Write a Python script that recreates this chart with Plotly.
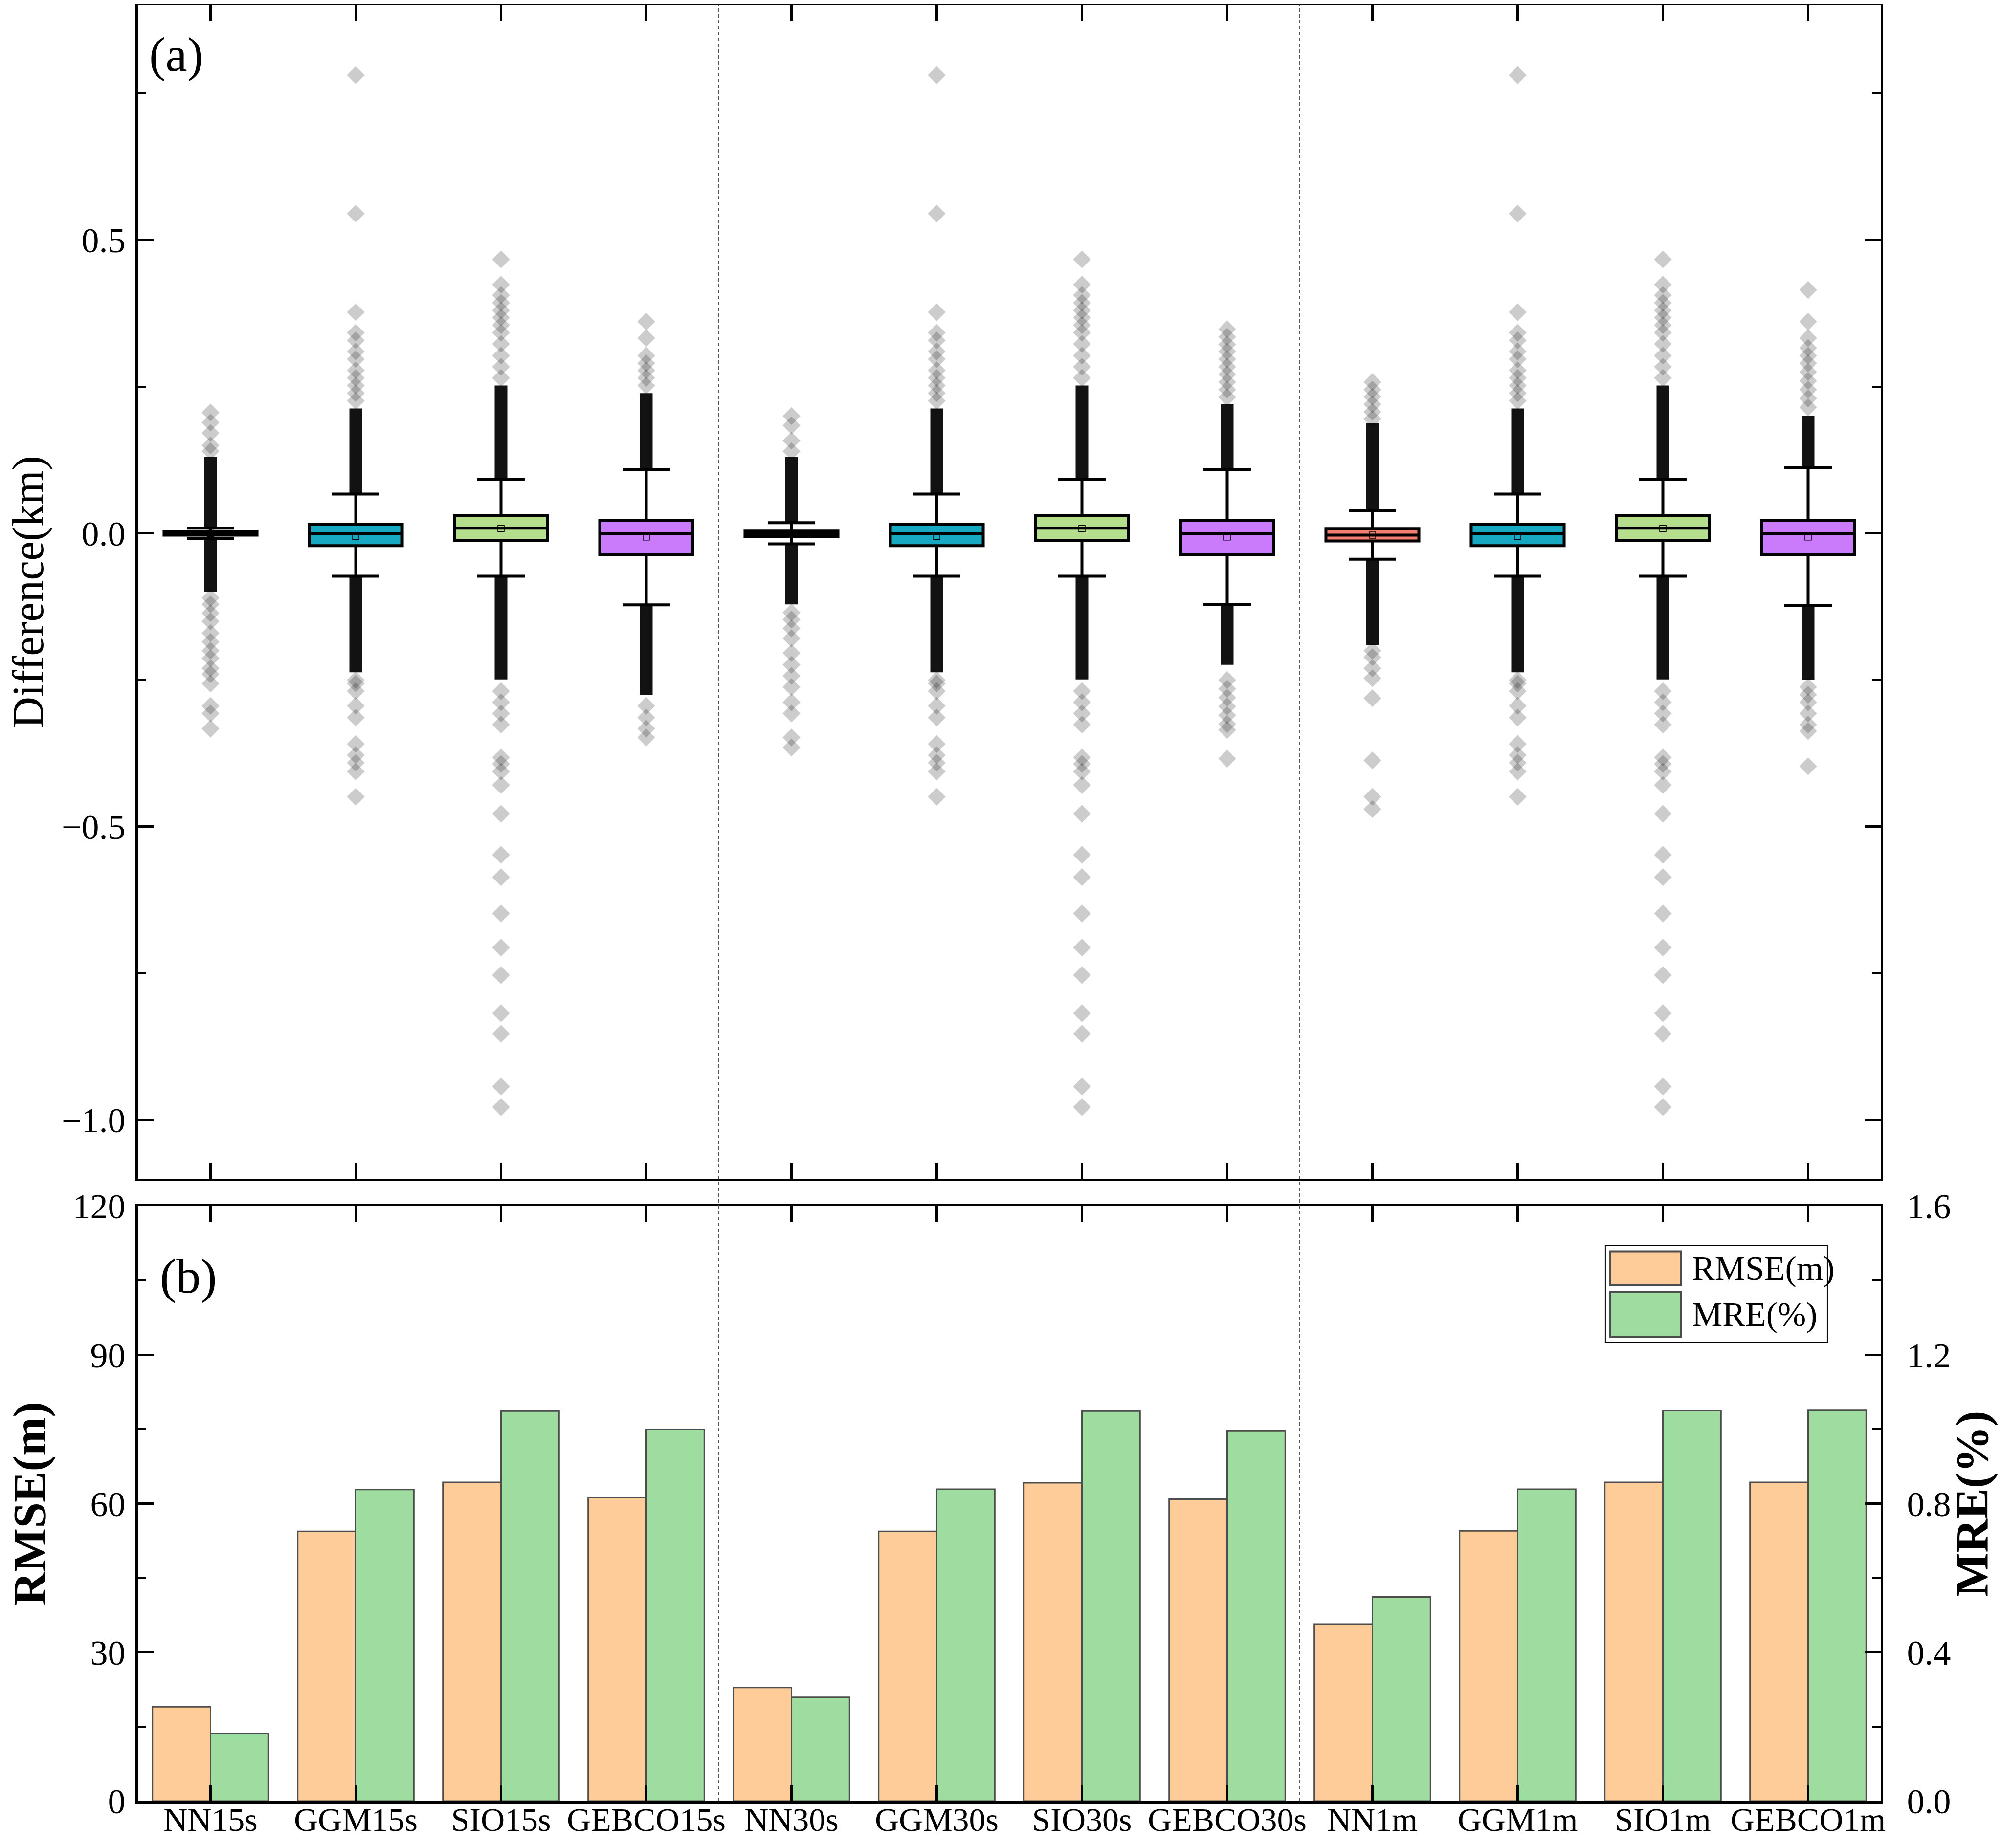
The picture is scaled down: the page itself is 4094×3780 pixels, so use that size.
"""Box plot of depth differences (a) and RMSE / MRE bars (b) for the twelve models."""

import plotly.graph_objects as go

categories = ["NN15s", "GGM15s", "SIO15s", "GEBCO15s",
              "NN30s", "GGM30s", "SIO30s", "GEBCO30s",
              "NN1m", "GGM1m", "SIO1m", "GEBCO1m"]
pos = list(range(len(categories)))

# box statistics, km
q1 = [-0.003, -0.021, -0.012, -0.036, -0.005, -0.021, -0.012, -0.036, -0.013, -0.021, -0.012, -0.036]
median = [0.0, 0.0, 0.009, 0.0, 0.0, 0.0, 0.009, 0.0, -0.003, 0.0, 0.009, 0.0]
q3 = [0.003, 0.015, 0.030, 0.022, 0.004, 0.015, 0.030, 0.022, 0.008, 0.015, 0.030, 0.022]
lower_fence = [-0.009, -0.073, -0.073, -0.122, -0.018, -0.073, -0.073, -0.121, -0.044, -0.073, -0.073, -0.123]
upper_fence = [0.009, 0.067, 0.092, 0.109, 0.018, 0.067, 0.092, 0.109, 0.039, 0.067, 0.092, 0.112]
mean = [0.0, -0.005, 0.008, -0.006, 0.0, -0.005, 0.008, -0.006, -0.003, -0.005, 0.008, -0.006]

# extent of the solid runs of outliers next to the whiskers, km
band_hi = [0.130, 0.213, 0.252, 0.239, 0.130, 0.213, 0.252, 0.220, 0.188, 0.213, 0.252, 0.200]
band_lo = [-0.100, -0.237, -0.249, -0.275, -0.121, -0.237, -0.249, -0.224, -0.190, -0.237, -0.249, -0.250]

# separate outliers, km
nn15_out = [0.206, 0.189, 0.171, 0.150, 0.140, -0.110, -0.121, -0.136, -0.150, -0.170, -0.185,
            -0.200, -0.213, -0.230, -0.240, -0.256, -0.294, -0.307, -0.333]
ggm_out = [0.781, 0.545, 0.377, 0.342, 0.329, 0.310, 0.297, 0.278, 0.265, 0.252, 0.239, 0.226,
           -0.250, -0.256, -0.269, -0.294, -0.314, -0.359, -0.378, -0.391, -0.406, -0.449]
sio_out = [0.467, 0.424, 0.406, 0.393, 0.380, 0.368, 0.355, 0.342, 0.323, 0.303, 0.284, 0.265,
           -0.269, -0.288, -0.307, -0.326, -0.382, -0.393, -0.406, -0.429, -0.478, -0.548, -0.586,
           -0.648, -0.706, -0.753, -0.818, -0.853, -0.943, -0.978]
gebco15_out = [0.361, 0.333, 0.303, 0.290, 0.278, 0.265, 0.252, -0.294, -0.314, -0.333, -0.348]
nn30_out = [0.200, 0.184, 0.158, 0.140, -0.135, -0.147, -0.162, -0.179, -0.204, -0.224, -0.243,
            -0.262, -0.288, -0.307, -0.348, -0.365]
gebco30_out = [0.348, 0.335, 0.322, 0.310, 0.297, 0.284, 0.271, 0.258, 0.245, 0.232,
               -0.250, -0.265, -0.280, -0.295, -0.310, -0.325, -0.335, -0.384]
nn1m_out = [0.258, 0.245, 0.233, 0.220, 0.207, 0.195, -0.200, -0.211, -0.230, -0.247, -0.281,
            -0.387, -0.449, -0.470]
gebco1m_out = [0.415, 0.361, 0.333, 0.316, 0.303, 0.290, 0.275, 0.260, 0.245, 0.230, 0.215,
               -0.262, -0.275, -0.288, -0.307, -0.326, -0.337, -0.397]
outliers = [nn15_out, ggm_out, sio_out, gebco15_out,
            nn30_out, ggm_out, sio_out, gebco30_out,
            nn1m_out, ggm_out, sio_out, gebco1m_out]

box_colors = ["#000000", "#17A9C1", "#B5DF8C", "#C97BFC",
              "#000000", "#17A9C1", "#B5DF8C", "#C97BFC",
              "#F47F72", "#17A9C1", "#B5DF8C", "#C97BFC"]

# panel (b)
rmse = [19.0, 54.4, 64.3, 61.2, 22.9, 54.4, 64.2, 60.9, 35.7, 54.5, 64.3, 64.3]
mre = [0.182, 0.838, 1.049, 1.000, 0.279, 0.839, 1.049, 0.995, 0.549, 0.839, 1.050, 1.051]

FONT = "Liberation Serif"
RMSE_COLOR = "#FECC99"
MRE_COLOR = "#9FDC9F"
BAR_EDGE = "#4D4D4D"

fig = go.Figure()

# solid outlier runs and single outliers
for i in pos:
    for seg in ([lower_fence[i], band_lo[i]], [upper_fence[i], band_hi[i]]):
        fig.add_trace(go.Scatter(x=[i, i], y=seg, mode="lines", showlegend=False,
                                 line=dict(color="rgba(0,0,0,0.93)", width=26),
                                 xaxis="x", yaxis="y", hoverinfo="skip"))
    fig.add_trace(go.Scatter(x=[i] * len(outliers[i]), y=outliers[i], mode="markers",
                             showlegend=False, xaxis="x", yaxis="y",
                             marker=dict(symbol="diamond", size=28, color="rgba(0,0,0,0.2)",
                                         line=dict(width=0))))

# boxes
for i in pos:
    fig.add_trace(go.Box(x=[i], q1=[q1[i]], median=[median[i]], q3=[q3[i]],
                         lowerfence=[lower_fence[i]], upperfence=[upper_fence[i]],
                         boxpoints=False, width=0.64, whiskerwidth=0.51,
                         fillcolor=box_colors[i], line=dict(color="black", width=6),
                         name=categories[i], showlegend=False, xaxis="x", yaxis="y"))

# means
fig.add_trace(go.Scatter(x=pos, y=mean, mode="markers", showlegend=False, xaxis="x", yaxis="y",
                         marker=dict(symbol="square-open", size=13, color="black",
                                     line=dict(width=1.5, color="black"))))

# bars
fig.add_trace(go.Bar(x=pos, y=rmse, width=0.4, offset=-0.4, name="RMSE(m)", showlegend=False,
                     marker=dict(color=RMSE_COLOR, line=dict(color=BAR_EDGE, width=3)),
                     xaxis="x2", yaxis="y2"))
fig.add_trace(go.Bar(x=pos, y=mre, width=0.4, offset=0.0, name="MRE(%)", showlegend=False,
                     marker=dict(color=MRE_COLOR, line=dict(color=BAR_EDGE, width=3)),
                     xaxis="x2", yaxis="y3"))

axis_common = dict(showline=True, linecolor="black", linewidth=5, ticks="inside",
                   ticklen=32, tickwidth=5, tickcolor="black", showgrid=False, zeroline=False,
                   automargin=False, tickfont=dict(family=FONT, size=72, color="black"))
minor_ticks = dict(ticks="inside", ticklen=17, tickwidth=4, tickcolor="black")

fig.update_layout(
    width=4078, height=3764,
    margin=dict(l=274, r=240, t=3, b=88),
    paper_bgcolor="white", plot_bgcolor="white",
    font=dict(family=FONT, color="black"),
    showlegend=False,
    xaxis=dict(axis_common, domain=[0, 1], anchor="y", range=[-0.5, 11.5],
               tickvals=pos, showticklabels=False, mirror="ticks"),
    yaxis=dict(axis_common, domain=[0.3466, 1.0], anchor="x", range=[-1.1, 0.9],
               tick0=0, dtick=0.5, tickformat=".1f", mirror="ticks", ticklabelstandoff=6,
               minor=dict(minor_ticks, dtick=0.25),
               title=dict(text="Difference(km)", font=dict(family=FONT, size=90), standoff=26)),
    xaxis2=dict(axis_common, domain=[0, 1], anchor="y2", range=[-0.5, 11.5],
                tickvals=pos, ticktext=categories, mirror="ticks", ticklabelstandoff=-26,
                tickfont=dict(family=FONT, size=68, color="black")),
    yaxis2=dict(axis_common, domain=[0, 0.3313], anchor="x2", range=[0, 120],
                tick0=0, dtick=30, ticklabelstandoff=6,
                minor=dict(minor_ticks, dtick=15),
                title=dict(text="<b>RMSE(m)</b>", font=dict(family=FONT, size=95), standoff=60)),
    yaxis3=dict(axis_common, overlaying="y2", side="right", anchor="x2", range=[0, 1.6],
                tick0=0, dtick=0.4, tickformat=".1f", ticklabelstandoff=34,
                minor=dict(minor_ticks, dtick=0.2),
                title=dict(text="<b>MRE(%)</b>", font=dict(family=FONT, size=95), standoff=26)),
    bargap=0.2,
)

# dashed separators between resolutions
for xv in (3.5, 7.5):
    fig.add_shape(type="line", xref="x", yref="paper", x0=xv, x1=xv, y0=0, y1=1,
                  line=dict(color="#555555", width=2, dash="7px,5px"), layer="above")

# panel labels
fig.add_annotation(text="(a)", xref="x domain", yref="y domain", x=0.006, y=0.958,
                   xanchor="left", yanchor="middle", showarrow=False,
                   font=dict(family=FONT, size=100, color="black"))
fig.add_annotation(text="(b)", xref="x2 domain", yref="y2 domain", x=0.012, y=0.882,
                   xanchor="left", yanchor="middle", showarrow=False,
                   font=dict(family=FONT, size=100, color="black"))

# legend box for panel (b)
fig.add_shape(type="rect", xref="x2 domain", yref="y2 domain", x0=0.842, x1=0.9694,
              y0=0.7707, y1=0.934, line=dict(color="black", width=2), fillcolor="white")
for (y0, y1, color, label) in ((0.867, 0.924, RMSE_COLOR, "RMSE(m)"),
                               (0.780, 0.856, MRE_COLOR, "MRE(%)")):
    fig.add_shape(type="rect", xref="x2 domain", yref="y2 domain", x0=0.8448, x1=0.8855,
                  y0=y0, y1=y1, line=dict(color=BAR_EDGE, width=4), fillcolor=color)
    fig.add_annotation(text=label, xref="x2 domain", yref="y2 domain", x=0.891,
                       y=(y0 + y1) / 2, xanchor="left", yanchor="middle", showarrow=False,
                       font=dict(family=FONT, size=70, color="black"))

fig.write_html("out.html")
